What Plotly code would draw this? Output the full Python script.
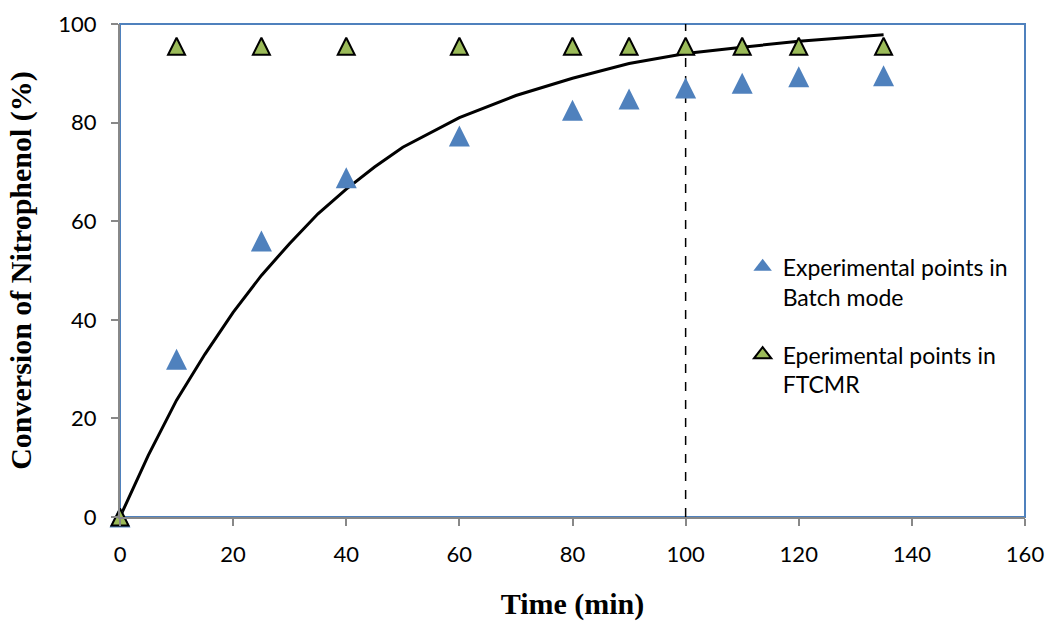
import plotly.graph_objects as go

# Data
batch_t = [0, 10, 25, 40, 60, 80, 90, 100, 110, 120, 135]
batch_x = [0, 32, 56, 68.8, 77.3, 82.5, 84.8, 87.0, 88.0, 89.3, 89.5]

ftcmr_t = [0, 10, 25, 40, 60, 80, 90, 100, 110, 120, 135]
ftcmr_x = [0, 95.5, 95.5, 95.5, 95.5, 95.5, 95.5, 95.5, 95.5, 95.5, 95.5]

model_t = [0, 5, 10, 15, 20, 25, 30, 35, 40, 45, 50, 55, 60, 70, 80, 90, 100, 110, 120, 135]
model_x = [0, 12.5, 23.7, 33, 41.5, 49, 55.5, 61.5, 66.5, 71, 75, 78, 81, 85.5, 89, 92, 94, 95.3, 96.5, 97.8]

vline_t = [100, 100]
vline_x = [0, 100]

x_ticks = [0, 20, 40, 60, 80, 100, 120, 140, 160]
y_ticks = [0, 20, 40, 60, 80, 100]

batch_name = "Experimental points in<br>Batch mode"
ftcmr_name = "Eperimental points in<br>FTCMR"

BLUE = "#4F81BD"
GREEN = "#9BBB59"

fig = go.Figure()
fig.add_trace(go.Scatter(x=vline_t, y=vline_x, mode="lines",
                         line=dict(color="black", width=1.5, dash="dash"),
                         showlegend=False, hoverinfo="skip"))
fig.add_trace(go.Scatter(x=model_t, y=model_x, mode="lines",
                         line=dict(color="black", width=3),
                         showlegend=False))
fig.add_trace(go.Scatter(x=batch_t, y=batch_x, mode="markers",
                         name=batch_name, showlegend=False, cliponaxis=False,
                         marker=dict(symbol="arrow-down", angle=180, size=21, standoff=10.5,
                                     color=BLUE, line=dict(width=0))))
fig.add_trace(go.Scatter(x=ftcmr_t, y=ftcmr_x, mode="markers",
                         name=ftcmr_name, showlegend=False, cliponaxis=False,
                         marker=dict(symbol="arrow-down", angle=180, size=17, standoff=8.5,
                                     color=GREEN, line=dict(width=2, color="black"))))
# legend entries
fig.add_trace(go.Scatter(x=[None], y=[None], mode="markers", name=batch_name,
                         legendgroup="a",
                         marker=dict(symbol="triangle-up", size=16, color=BLUE, line=dict(width=0))))
fig.add_trace(go.Scatter(x=[None], y=[None], mode="markers", name=ftcmr_name,
                         legendgroup="b",
                         marker=dict(symbol="triangle-up", size=15, color=GREEN,
                                     line=dict(width=2, color="black"))))

fig.add_shape(type="rect", xref="paper", yref="paper", x0=0, y0=0, x1=1, y1=1,
              line=dict(color=BLUE, width=2), layer="below")

tickfont = dict(family="Lato, Open Sans, sans-serif", size=22, color="black")
titlefont = dict(family="Liberation Serif, Times New Roman, serif", size=30, color="black")

fig.update_layout(
    width=1047, height=621,
    margin=dict(l=120, r=22, t=24, b=104),
    paper_bgcolor="white", plot_bgcolor="white",
    legend=dict(x=0.688, y=0.551, xanchor="left", yanchor="top", valign="top",
                font=dict(family="Lato, Open Sans, sans-serif", size=23, color="black"),
                tracegroupgap=25, itemsizing="trace", bgcolor="rgba(0,0,0,0)"),
    xaxis=dict(range=[0, 160], tickvals=x_ticks, showgrid=False, zeroline=False,
               showline=True, linecolor="#888888", linewidth=2, automargin=False,
               ticks="outside", ticklen=7, tickwidth=2, tickcolor="#888888",
               tickfont=tickfont, ticklabelstandoff=10,
               title=dict(text="<b>Time (min)</b>", font=titlefont, standoff=33)),
    yaxis=dict(range=[0, 100], tickvals=y_ticks, showgrid=False, zeroline=False,
               showline=True, linecolor="#888888", linewidth=2, automargin=False,
               ticks="outside", ticklen=7, tickwidth=2, tickcolor="#888888",
               tickfont=tickfont, ticklabelstandoff=10,
               title=dict(text="<b>Conversion of Nitrophenol (%)</b>", font=titlefont, standoff=18)),
)

fig.write_html("out.html")
